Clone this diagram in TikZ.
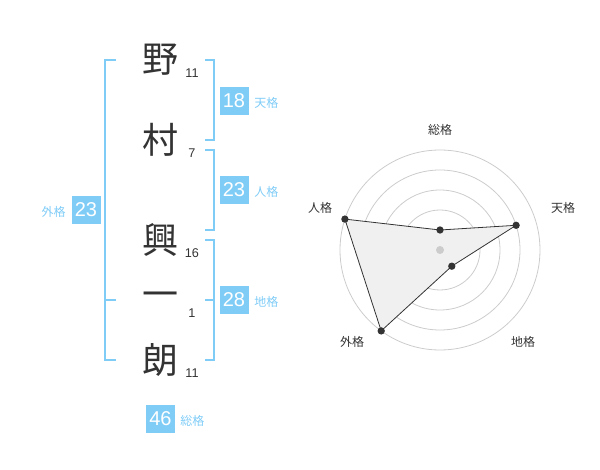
\documentclass[tikz,border=0pt]{standalone}
\usepackage{fontspec}
\setmainfont{Liberation Sans}
\newfontfamily\jp{Noto Sans CJK JP}
\definecolor{sky}{HTML}{7FCCF7}
\definecolor{ink}{HTML}{333333}
\definecolor{ring}{HTML}{CCCCCC}
\definecolor{area}{HTML}{F0F0F0}
\tikzset{
  kanji/.style={font=\jp\fontsize{27}{27}\selectfont, text=ink, inner sep=0pt},
  strokes/.style={font=\fontsize{9.5}{10}\selectfont, text=ink, inner sep=0pt},
  numbox/.style={fill=sky, text=white, minimum width=21.75pt, minimum height=21pt, inner sep=0pt, font=\fontsize{15}{15}\selectfont},
  kaku/.style={text=sky, font=\jp\fontsize{9}{9}\selectfont, inner sep=0pt},
  brk/.style={draw=sky, line width=1.5pt},
  axlabel/.style={text=ink, font=\jp\fontsize{9}{9}\selectfont, inner sep=0pt},
  dot/.style={circle, fill=ink, inner sep=0pt, minimum size=5.5pt},
}
\begin{document}
\begin{tikzpicture}[x=0.75pt, y=-0.75pt]
\useasboundingbox (0,0) rectangle (600,470);
% characters
\node[kanji] (c1) at (160,60) {野};
\node[kanji] (c2) at (160,140) {村};
\node[kanji] (c3) at (160,240) {興};
\node[kanji] (c4) at (160,300) {一};
\node[kanji] (c5) at (160,360) {朗};
\node[strokes] (s1) at (192,73) {11};
\node[strokes] (s2) at (192,153) {7};
\node[strokes] (s3) at (192,253) {16};
\node[strokes] (s4) at (192,313) {1};
\node[strokes] (s5) at (192,373) {11};
% brackets
\draw[brk] (205,60) -- (214,60) -- (214,140) -- (205,140);
\draw[brk] (205,150) -- (214,150) -- (214,230) -- (205,230);
\draw[brk] (205,240) -- (214,240) -- (214,360) -- (205,360);
\draw[brk] (205,300) -- (214,300);
\draw[brk] (116,60) -- (105,60) -- (105,360) -- (116,360);
\draw[brk] (105,300) -- (116,300);
% boxes
\node[numbox] (ten) at (234,101) {18};
\node[kaku, anchor=west] (tenl) at (254,103) {天格};
\node[numbox] (jin) at (234,190) {23};
\node[kaku, anchor=west] (jinl) at (254,192) {人格};
\node[numbox] (chi) at (234,300) {28};
\node[kaku, anchor=west] (chil) at (254,302) {地格};
\node[numbox] (gai) at (86,210) {23};
\node[kaku, anchor=east] (gail) at (66,212) {外格};
\node[numbox] (sou) at (160.5,419) {46};
\node[kaku, anchor=west] (soul) at (180,421) {総格};
% radar
\coordinate (o) at (440,250);
\foreach \r in {20,40,60,80,100} \draw[ring, line width=0.6pt] (o) circle[radius=\r];
\path (o) ++(0,-20) coordinate (pS);
\path (o) ++(76.1,-24.7) coordinate (pT);
\path (o) ++(11.8,16.2) coordinate (pC);
\path (o) ++(-58.8,80.9) coordinate (pG);
\path (o) ++(-95.1,-30.9) coordinate (pJ);
\fill[area] (pS) -- (pT) -- (pC) -- (pG) -- (pJ) -- cycle;
\draw[ink, line width=0.6pt] (pS) -- (pT) -- (pC) -- (pG) -- (pJ) -- cycle;
\node[circle, fill=ring, inner sep=0pt, minimum size=6pt] (ctr) at (o) {};
\foreach \p in {pS,pT,pC,pG,pJ} \node[dot] (d\p) at (\p) {};
\node[axlabel] (lS) at (440,130) {総格};
\node[axlabel] (lT) at (563,208) {天格};
\node[axlabel] (lJ) at (320,208) {人格};
\node[axlabel] (lG) at (352,342) {外格};
\node[axlabel] (lC) at (523,342) {地格};
\end{tikzpicture}
\end{document}
